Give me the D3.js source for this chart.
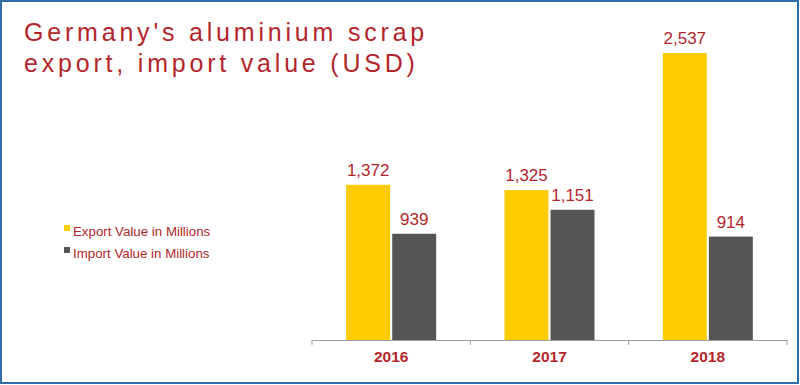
<!DOCTYPE html>
<html><head><meta charset="utf-8">
<script src="https://cdn.jsdelivr.net/npm/d3@7"></script>
<style>body{margin:0;background:#fff}svg{display:block}text{font-family:Arial,"Liberation Sans",sans-serif}</style>
</head><body>
<svg id="c" width="800" height="385"></svg>
<script>
const years = ["2016", "2017", "2018"];
const exportValues = [1372, 1325, 2537];
const importValues = [939, 1151, 914];
const seriesNames = ["Export Value in Millions", "Import Value in Millions"];
const titleLines = ["Germany's aluminium scrap", "export, import value (USD)"];

const colors = ["#ffcc00", "#555555"];
const red = "#b3262c";
const svg = d3.select("#c");
svg.append("rect").attr("x",1).attr("y",1).attr("width",797).attr("height",382)
  .attr("fill","#fff").attr("stroke","#2f6fa5").attr("stroke-width",2);

const x = d3.scaleBand().domain(years).range([312, 787]).paddingInner(0).paddingOuter(0);
const y = d3.scaleLinear().domain([0, 2537]).range([340, 53]);
const sub = d3.scaleBand().domain([0,1]).range([0, 90]).paddingInner(0.045);
const groupOff = (x.bandwidth() - 90) / 2;

// title
titleLines.forEach((t,i)=>{
  svg.append("text").attr("x",24).attr("y",40.5 + i*31.5).attr("fill",red)
    .attr("font-size",25).attr("letter-spacing","3.8px").text(t);
});

// axis
const ax = svg.append("g").attr("transform","translate(0,340)")
  .call(d3.axisBottom(x).tickSize(0).tickFormat(d=>d).tickPadding(11));
ax.select(".domain").attr("stroke","#a0a0a0");
ax.selectAll("text").attr("fill",red).attr("font-size",15.5).attr("font-weight","bold")
  .attr("font-family","Arial, 'Liberation Sans', sans-serif");
// category boundary ticks
const bounds = years.map(d=>x(d)).concat([x(years[2]) + x.bandwidth()]);
svg.append("g").selectAll("line").data(bounds).join("line")
  .attr("x1",d=>d).attr("x2",d=>d).attr("y1",340).attr("y2",345).attr("stroke","#a0a0a0");

const series = [exportValues, importValues];
series.forEach((vals, si)=>{
  const g = svg.append("g");
  g.selectAll("rect").data(vals).join("rect")
    .attr("x",(d,i)=>x(years[i]) + groupOff + sub(si))
    .attr("width",sub.bandwidth())
    .attr("y",d=>y(d)).attr("height",d=>340 - y(d)).attr("fill",colors[si]);
  g.selectAll("text").data(vals).join("text")
    .attr("x",(d,i)=>x(years[i]) + groupOff + sub(si) + sub.bandwidth()/2)
    .attr("y",d=>y(d) - 9).attr("text-anchor","middle").attr("fill",red)
    .attr("font-size",17).text(d=>d3.format(",")(d));
});

// legend
seriesNames.forEach((n,i)=>{
  svg.append("rect").attr("x",64).attr("y",228 + i*22 - 3).attr("width",6).attr("height",6).attr("fill",colors[i]);
  svg.append("text").attr("x",73).attr("y",231 + i*22 + 4.5).attr("fill",red)
    .attr("font-size",13.3).text(n);
});
</script>
</body></html>
